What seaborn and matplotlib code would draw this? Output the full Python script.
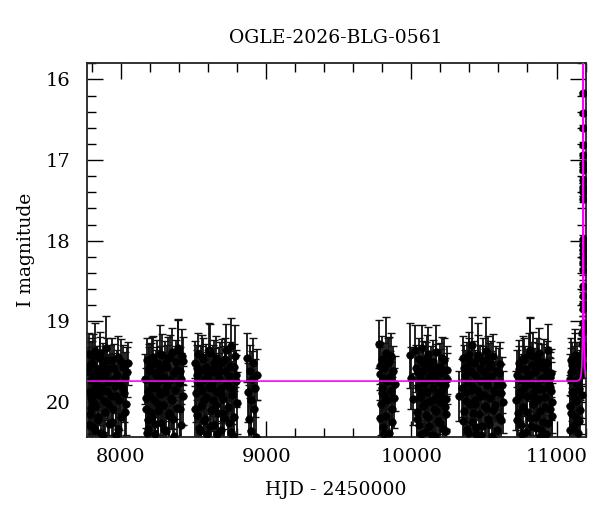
import matplotlib
matplotlib.use('Agg')
import matplotlib.pyplot as plt
from matplotlib.ticker import MultipleLocator
import pandas as pd
import seaborn as sns


# photometry, one block per observing season (HJD - 2450000, I mag, error)
hjd_s1 = [7774, 7779, 7783, 7788, 7792, 7797, 7801, 7806, 7811, 7815, 7820, 7826, 7831, 7837, 7842,
          7848, 7853, 7859, 7864, 7870, 7876, 7881, 7887, 7893, 7899, 7905, 7911, 7917, 7923, 7930,
          7936, 7943, 7950, 7957, 7964, 7971, 7979, 7987, 7995, 8003, 8011, 8019, 8027, 8036, 8046,
          7777, 7786, 7795, 7804, 7813, 7823, 7834, 7845, 7856, 7867, 7878, 7890, 7902, 7914, 7926,
          7939, 7953, 7967, 7983, 7999, 8015, 8031, 8041, 7808]
mag_s1 = [19.62, 19.88, 19.41, 20.15, 19.73, 19.95, 19.52, 20.31, 19.68, 19.84, 19.37, 20.05, 19.77, 19.59, 20.22,
          19.91, 19.46, 19.70, 20.38, 19.81, 19.55, 19.99, 19.64, 20.12, 19.33, 19.86, 19.75, 20.27, 19.58, 19.93,
          19.48, 20.08, 19.71, 19.80, 20.41, 19.66, 19.44, 19.97, 19.79, 20.18, 19.57, 19.89, 19.69, 20.02, 19.52,
          20.28, 19.54, 20.07, 19.43, 19.90, 20.35, 19.61, 20.19, 19.39, 19.85, 20.41, 19.67, 19.48, 20.02, 19.74,
          20.25, 19.58, 19.92, 20.33, 19.50, 19.82, 20.12, 19.63, 20.00]
err_s1 = [0.30, 0.36, 0.26, 0.42, 0.32, 0.38, 0.28, 0.44, 0.31, 0.35, 0.35, 0.40, 0.33, 0.29, 0.43,
          0.37, 0.27, 0.31, 0.45, 0.34, 0.28, 0.38, 0.30, 0.41, 0.40, 0.36, 0.33, 0.43, 0.29, 0.37,
          0.27, 0.40, 0.32, 0.34, 0.45, 0.30, 0.26, 0.38, 0.34, 0.42, 0.28, 0.36, 0.31, 0.39, 0.27,
          0.43, 0.29, 0.40, 0.27, 0.36, 0.44, 0.30, 0.41, 0.26, 0.35, 0.45, 0.31, 0.28, 0.39, 0.33,
          0.42, 0.30, 0.37, 0.44, 0.28, 0.34, 0.40, 0.31, 0.38]

hjd_s2 = [8166, 8172, 8177, 8183, 8188, 8194, 8199, 8205, 8211, 8216, 8222, 8227, 8233, 8239, 8244,
          8250, 8256, 8261, 8267, 8273, 8279, 8284, 8290, 8296, 8302, 8308, 8314, 8320, 8326, 8332,
          8338, 8344, 8350, 8357, 8363, 8370, 8377, 8384, 8391, 8398, 8405, 8412, 8420, 8428,
          8169, 8180, 8191, 8202, 8213, 8224, 8236, 8247, 8258, 8270, 8281, 8293, 8305, 8317, 8329,
          8341, 8354, 8366, 8380, 8394, 8408, 8416, 8424, 8186]
mag_s2 = [19.71, 20.09, 19.48, 19.86, 20.33, 19.62, 19.93, 19.55, 20.19, 19.78, 19.44, 19.97, 20.40, 19.66, 19.83,
          19.51, 20.11, 19.74, 19.90, 20.26, 19.59, 19.42, 20.04, 19.69, 19.87, 20.36, 19.57, 19.80, 19.46, 20.14,
          19.73, 19.95, 19.38, 20.21, 19.64, 19.85, 19.50, 20.07, 19.33, 19.76, 19.61, 20.28, 19.43, 19.92,
          19.95, 20.38, 19.57, 20.12, 19.46, 19.81, 20.27, 19.63, 20.03, 19.40, 19.88, 20.33, 19.52, 19.75, 20.17,
          19.44, 19.97, 20.42, 19.60, 19.36, 20.08, 19.71, 19.49, 20.22]
err_s2 = [0.31, 0.39, 0.27, 0.35, 0.44, 0.30, 0.37, 0.28, 0.41, 0.33, 0.26, 0.38, 0.45, 0.31, 0.35,
          0.28, 0.40, 0.32, 0.36, 0.43, 0.29, 0.26, 0.39, 0.31, 0.36, 0.44, 0.28, 0.34, 0.27, 0.40,
          0.32, 0.37, 0.30, 0.42, 0.30, 0.36, 0.27, 0.39, 0.36, 0.33, 0.29, 0.43, 0.34, 0.37,
          0.37, 0.45, 0.29, 0.40, 0.27, 0.34, 0.43, 0.31, 0.38, 0.36, 0.35, 0.44, 0.28, 0.33, 0.41,
          0.27, 0.37, 0.45, 0.30, 0.38, 0.39, 0.32, 0.30, 0.42]

hjd_s3 = [8510, 8515, 8521, 8526, 8532, 8537, 8543, 8549, 8554, 8560, 8566, 8571, 8577, 8583, 8589,
          8595, 8601, 8607, 8613, 8619, 8625, 8631, 8637, 8643, 8649, 8655, 8661, 8667, 8673, 8680,
          8686, 8692, 8699, 8706, 8712, 8719, 8726, 8733, 8740, 8747, 8755, 8763, 8771, 8780, 8790, 8800,
          8512, 8524, 8535, 8546, 8557, 8569, 8580, 8592, 8604, 8616, 8628, 8640, 8652, 8664, 8677,
          8689, 8702, 8716, 8729, 8743, 8751, 8759, 8767, 8776, 8785, 8795]
mag_s3 = [19.52, 19.89, 20.16, 19.67, 19.41, 20.32, 19.78, 19.60, 20.05, 19.85, 19.47, 20.24, 19.72, 19.94, 19.56,
          20.39, 19.65, 19.81, 19.39, 20.10, 19.76, 19.58, 19.98, 20.29, 19.63, 19.45, 19.87, 20.13, 19.70, 19.54,
          20.35, 19.82, 19.49, 19.96, 20.20, 19.61, 19.36, 19.79, 20.06, 19.68, 19.31, 19.91, 20.42, 19.57, 19.74, 20.01,
          20.09, 19.58, 19.86, 20.36, 19.44, 19.97, 20.21, 19.69, 19.35, 20.30, 19.83, 19.51, 20.04, 20.40, 19.62,
          19.90, 20.14, 19.47, 19.78, 20.26, 19.55, 20.37, 19.84, 20.18, 19.43, 19.66]
err_s3 = [0.28, 0.36, 0.41, 0.31, 0.26, 0.44, 0.33, 0.29, 0.39, 0.35, 0.27, 0.42, 0.32, 0.37, 0.28,
          0.45, 0.30, 0.34, 0.36, 0.40, 0.33, 0.29, 0.38, 0.43, 0.30, 0.27, 0.36, 0.41, 0.31, 0.28,
          0.44, 0.35, 0.27, 0.37, 0.42, 0.30, 0.33, 0.34, 0.39, 0.31, 0.35, 0.36, 0.45, 0.29, 0.32, 0.38,
          0.39, 0.29, 0.36, 0.44, 0.27, 0.37, 0.42, 0.31, 0.33, 0.44, 0.34, 0.28, 0.38, 0.45, 0.30,
          0.36, 0.40, 0.27, 0.33, 0.43, 0.29, 0.45, 0.35, 0.41, 0.38, 0.31]

hjd_s4 = [8869, 8875, 8881, 8887, 8893, 8899, 8905, 8911, 8917, 8924, 8931, 8938]
mag_s4 = [19.45, 19.88, 20.21, 19.62, 19.97, 20.36, 19.71, 19.52, 20.08, 19.83, 20.43, 19.66]
err_s4 = [0.30, 0.37, 0.42, 0.33, 0.38, 0.44, 0.34, 0.31, 0.40, 0.36, 0.45, 0.32]

hjd_s5 = [9779, 9784, 9790, 9795, 9801, 9806, 9812, 9817, 9823, 9828,
          9834, 9839, 9845, 9851, 9857, 9863, 9869, 9876, 9883, 9890,
          9781, 9787, 9798, 9809, 9820, 9831, 9848, 9866]
mag_s5 = [19.28, 19.65, 20.02, 19.47, 19.83, 20.31, 19.58, 19.92, 19.39, 20.17,
          19.74, 19.51, 20.38, 19.69, 19.86, 19.43, 20.09, 19.61, 19.95, 19.77,
          20.20, 19.55, 19.89, 20.40, 19.72, 19.98, 19.49, 20.25]
err_s5 = [0.30, 0.33, 0.39, 0.29, 0.35, 0.43, 0.31, 0.37, 0.44, 0.41,
          0.34, 0.30, 0.45, 0.32, 0.36, 0.28, 0.40, 0.31, 0.37, 0.34,
          0.42, 0.30, 0.36, 0.45, 0.33, 0.38, 0.30, 0.43]

hjd_s6 = [9994, 10001, 10012, 10024, 10033, 10039, 10044, 10050, 10055, 10061, 10066, 10072, 10077, 10083,
          10088, 10094, 10100, 10105, 10111, 10117, 10122, 10128, 10134, 10140, 10146, 10152, 10158, 10164,
          10170, 10176, 10182, 10188, 10194, 10200, 10206, 10212, 10218, 10224, 10230, 10236, 10242, 10248,
          10036, 10047, 10058, 10069, 10080, 10091, 10102, 10114, 10125, 10137, 10149, 10161, 10173, 10185,
          10197, 10209, 10221, 10233, 10239, 10245, 10097, 10131, 10167, 10203]
mag_s6 = [19.42, 19.70, 19.96, 19.35, 19.58, 20.12, 19.81, 19.47, 20.28, 19.69, 19.90, 19.33, 20.05, 19.62,
          19.76, 20.37, 19.54, 19.87, 19.44, 20.19, 19.72, 19.99, 19.59, 20.41, 19.83, 19.50, 20.08, 19.67,
          19.38, 19.93, 20.24, 19.75, 19.56, 20.00, 19.64, 19.85, 20.33, 19.48, 19.79, 19.96, 20.15, 19.71,
          20.21, 19.63, 19.94, 20.39, 19.52, 19.86, 20.16, 19.41, 20.30, 19.73, 19.97, 20.42, 19.57, 19.89,
          20.26, 19.46, 19.80, 20.06, 20.36, 19.60, 20.01, 19.68, 20.11, 19.92]
err_s6 = [0.40, 0.38, 0.32, 0.30, 0.29, 0.41, 0.35, 0.27, 0.44, 0.31, 0.36, 0.28, 0.39, 0.30,
          0.33, 0.45, 0.28, 0.36, 0.27, 0.42, 0.32, 0.38, 0.29, 0.45, 0.35, 0.27, 0.40, 0.31,
          0.33, 0.37, 0.43, 0.33, 0.29, 0.39, 0.30, 0.35, 0.44, 0.27, 0.34, 0.38, 0.41, 0.32,
          0.42, 0.30, 0.37, 0.45, 0.28, 0.36, 0.40, 0.34, 0.44, 0.32, 0.38, 0.45, 0.29, 0.36,
          0.43, 0.27, 0.34, 0.39, 0.44, 0.30, 0.39, 0.31, 0.41, 0.37]

hjd_s7 = [10331, 10352, 10358, 10363, 10369, 10375, 10380, 10386, 10392, 10397, 10403, 10409, 10415, 10420, 10426,
          10432, 10438, 10444, 10450, 10456, 10462, 10468, 10474, 10480, 10486, 10492, 10498, 10504, 10511, 10517,
          10523, 10530, 10536, 10543, 10550, 10557, 10564, 10571, 10578, 10586, 10594, 10602, 10610, 10619, 10628,
          10355, 10366, 10378, 10389, 10400, 10412, 10423, 10435, 10447, 10459, 10471, 10483, 10495, 10507, 10520,
          10533, 10547, 10561, 10575, 10590, 10606, 10615, 10624, 10441, 10527]
mag_s7 = [19.93, 19.83, 19.46, 20.11, 19.67, 19.88, 20.34, 19.55, 19.76, 19.40, 20.02, 19.62, 19.29, 20.25, 19.81,
          19.52, 19.97, 20.40, 19.70, 19.44, 19.86, 20.15, 19.58, 19.74, 20.30, 19.49, 19.91, 19.65, 20.07, 19.37,
          19.79, 20.21, 19.56, 19.95, 19.68, 20.42, 19.43, 19.85, 20.04, 19.61, 19.77, 20.18, 19.53, 19.89, 20.00,
          20.24, 19.58, 19.99, 20.38, 19.49, 19.85, 20.14, 19.66, 20.31, 19.42, 19.92, 20.41, 19.61, 20.05, 19.74,
          20.27, 19.53, 20.10, 19.87, 20.35, 19.64, 20.22, 19.79, 20.02, 19.46]
err_s7 = [0.31, 0.36, 0.28, 0.40, 0.31, 0.37, 0.44, 0.29, 0.33, 0.27, 0.39, 0.30, 0.34, 0.42, 0.35,
          0.28, 0.38, 0.45, 0.32, 0.27, 0.36, 0.41, 0.29, 0.33, 0.43, 0.28, 0.37, 0.31, 0.39, 0.42,
          0.34, 0.41, 0.29, 0.37, 0.31, 0.45, 0.27, 0.36, 0.39, 0.30, 0.33, 0.41, 0.28, 0.36, 0.38,
          0.42, 0.29, 0.38, 0.45, 0.28, 0.35, 0.41, 0.31, 0.44, 0.40, 0.36, 0.45, 0.30, 0.39, 0.33,
          0.43, 0.29, 0.40, 0.36, 0.44, 0.31, 0.42, 0.35, 0.39, 0.28]

hjd_s8 = [10724, 10730, 10736, 10742, 10748, 10754, 10760, 10766, 10772, 10778, 10784, 10790, 10796, 10802,
          10808, 10814, 10820, 10826, 10832, 10838, 10844, 10850, 10856, 10862, 10868, 10874, 10880, 10886,
          10892, 10898, 10904, 10910, 10916, 10922, 10928, 10934, 10940, 10946, 10952, 10958, 10965, 10972,
          10727, 10739, 10751, 10763, 10775, 10787, 10799, 10811, 10823, 10835, 10847, 10859, 10871, 10883,
          10895, 10907, 10919, 10931, 10943, 10955, 10962, 10969, 10817, 10889]
mag_s8 = [19.98, 19.66, 20.14, 19.51, 19.87, 20.29, 19.73, 19.45, 20.06, 19.82, 19.59, 20.37, 19.92, 19.68,
          19.41, 20.20, 19.35, 19.77, 19.54, 20.03, 19.88, 19.63, 20.32, 19.47, 19.80, 19.96, 19.39, 20.11,
          19.71, 19.57, 20.25, 19.84, 19.50, 19.94, 20.40, 19.62, 19.36, 19.78, 20.09, 19.69, 19.86, 20.17,
          20.22, 19.59, 19.91, 20.40, 19.48, 19.76, 20.12, 19.65, 20.30, 19.43, 19.95, 20.19, 19.55, 19.84,
          20.35, 19.70, 20.06, 19.52, 20.26, 19.81, 19.64, 20.00, 19.38, 20.42]
err_s8 = [0.37, 0.31, 0.40, 0.28, 0.36, 0.43, 0.32, 0.27, 0.39, 0.35, 0.29, 0.45, 0.37, 0.31,
          0.27, 0.41, 0.40, 0.34, 0.28, 0.38, 0.36, 0.30, 0.44, 0.27, 0.34, 0.38, 0.31, 0.40,
          0.32, 0.29, 0.42, 0.35, 0.28, 0.37, 0.45, 0.30, 0.33, 0.34, 0.39, 0.31, 0.36, 0.41,
          0.41, 0.29, 0.37, 0.45, 0.27, 0.34, 0.40, 0.31, 0.44, 0.30, 0.38, 0.42, 0.28, 0.35,
          0.44, 0.32, 0.39, 0.28, 0.43, 0.35, 0.30, 0.38, 0.42, 0.45]

hjd_s9 = [11090, 11095, 11100, 11106, 11111, 11117, 11122, 11128, 11133,
          11139, 11144, 11149, 11154, 11159, 11164, 11168, 11172, 11176,
          11092, 11098, 11103, 11109, 11114, 11120, 11125, 11131, 11147, 11157]
mag_s9 = [19.72, 20.05, 19.48, 19.88, 20.31, 19.60, 19.95, 19.42, 20.19,
          19.77, 19.55, 20.38, 19.84, 19.66, 20.10, 19.50, 19.91, 19.58,
          20.35, 19.63, 20.14, 19.54, 19.87, 20.28, 19.46, 19.99, 19.71, 20.24]
err_s9 = [0.32, 0.39, 0.28, 0.36, 0.43, 0.30, 0.37, 0.27, 0.41,
          0.34, 0.29, 0.45, 0.35, 0.31, 0.40, 0.28, 0.36, 0.29,
          0.44, 0.30, 0.40, 0.29, 0.36, 0.43, 0.36, 0.38, 0.33, 0.42]

# the event itself
hjd_ev = [11177, 11178, 11178, 11179, 11179, 11180, 11180, 11180, 11181, 11181, 11181, 11182, 11182, 11182,
          11182, 11183, 11183, 11183, 11183, 11183, 11184, 11184, 11184, 11184, 11184, 11187, 11189, 11192]
mag_ev = [19.42, 19.28, 19.15, 19.02, 18.85, 18.78, 18.68, 18.56, 18.36, 18.28, 18.20, 18.12, 18.05, 17.98,
          17.48, 17.40, 17.33, 17.25, 17.12, 17.05, 16.94, 16.81, 16.60, 16.42, 16.17, 19.10, 19.35, 19.55]
err_ev = [0.12, 0.11, 0.10, 0.09, 0.08, 0.08, 0.07, 0.07, 0.06, 0.06, 0.05, 0.05, 0.05, 0.05,
          0.04, 0.04, 0.04, 0.04, 0.03, 0.03, 0.03, 0.03, 0.03, 0.02, 0.02, 0.10, 0.12, 0.15]

# microlensing model curve
model_hjd = [7765, 11140, 11160, 11168, 11174, 11178, 11180, 11182, 11183, 11184,
             11185, 11186, 11188, 11190, 11194, 11200]
model_mag = [19.74, 19.74, 19.72, 19.68, 19.55, 19.30, 19.00, 18.20, 17.20, 14.50,
             17.20, 18.20, 19.00, 19.30, 19.55, 19.68]


phot = pd.DataFrame({
    'hjd': hjd_s1 + hjd_s2 + hjd_s3 + hjd_s4 + hjd_s5 + hjd_s6 + hjd_s7 + hjd_s8 + hjd_s9 + hjd_ev,
    'mag': mag_s1 + mag_s2 + mag_s3 + mag_s4 + mag_s5 + mag_s6 + mag_s7 + mag_s8 + mag_s9 + mag_ev,
    'err': err_s1 + err_s2 + err_s3 + err_s4 + err_s5 + err_s6 + err_s7 + err_s8 + err_s9 + err_ev,
})
model = pd.DataFrame({'hjd': model_hjd, 'mag': model_mag})

sns.set_style('ticks')
plt.rcParams['font.family'] = ['DejaVu Serif']
plt.rcParams['text.color'] = 'black'
plt.rcParams['xtick.color'] = 'black'
plt.rcParams['ytick.color'] = 'black'

fig = plt.figure(figsize=(6, 5.12), dpi=100)
ax = fig.add_axes([0.1445, 0.147, 0.8317, 0.7294])

# error bars first, then points, model on top
ax.errorbar(phot['hjd'], phot['mag'], yerr=phot['err'], fmt='none', ecolor='#111111',
            elinewidth=1.3, capsize=3, capthick=1.0, zorder=2)
sns.scatterplot(data=phot, x='hjd', y='mag', color='black', s=30, edgecolor='black',
                linewidth=0.4, ax=ax, zorder=3)
sns.lineplot(data=model, x='hjd', y='mag', color='#ff00ff', linewidth=1.2,
             estimator=None, sort=False, ax=ax, zorder=5)

ax.set_xlim(7764, 11201)
ax.set_ylim(20.43, 15.80)

ax.xaxis.set_major_locator(MultipleLocator(1000))
ax.xaxis.set_minor_locator(MultipleLocator(200))
ax.yaxis.set_major_locator(MultipleLocator(1))
ax.yaxis.set_minor_locator(MultipleLocator(0.2))
ax.tick_params(which='both', direction='in', top=True, right=True, width=1, color='black')
ax.tick_params(which='major', length=11.5, labelsize=14, labelcolor='black')
ax.tick_params(which='minor', length=6.5)
ax.tick_params(axis='x', pad=8)
ax.tick_params(axis='y', pad=12)
for sp in ax.spines.values():
    sp.set_linewidth(1.3)
    sp.set_color('#222222')

ax.set_xlabel('')
ax.set_ylabel('')
fig.text(336 / 600, 1 - 38 / 512, 'OGLE-2026-BLG-0561', ha='center', va='center', fontsize=13.5, color='black')
fig.text(336 / 600, 1 - 490 / 512, 'HJD - 2450000', ha='center', va='center', fontsize=13.5, color='black')
fig.text(26 / 600, 1 - 250 / 512, 'I magnitude', ha='center', va='center', rotation=90,
         fontsize=13.5, color='black')

fig.savefig('out.png', dpi=100)
